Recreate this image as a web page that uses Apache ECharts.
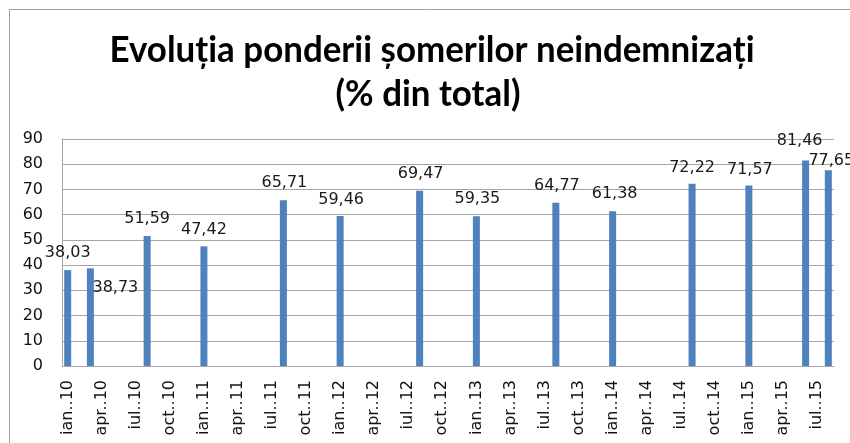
<!DOCTYPE html>
<html><head><meta charset="utf-8">
<script src="https://cdn.jsdelivr.net/npm/echarts@6/dist/echarts.min.js"></script>
<style>html,body{margin:0;padding:0;background:#fff}#c{width:850px;height:443px}</style>
</head><body><div id="c"></div>
<script>
// ---- data ----
const monthAbbr = ['ian.','feb.','mar.','apr.','mai.','iun.','iul.','aug.','sep.','oct.','nov.','dec.'];
const years = ['10','11','12','13','14','15'];
const lastCategory = 'aug..15';
const obsMonths = ['ian..10','mar..10','aug..10','ian..11','aug..11','ian..12','aug..12','ian..13','aug..13','ian..14','aug..14','ian..15','iun..15','aug..15'];
const obsValues = [38.03,38.73,51.59,47.42,65.71,59.46,69.47,59.35,64.77,61.38,72.22,71.57,81.46,77.65];
const titleLines = ['Evoluția ponderii șomerilor neindemnizați','(% din total)'];

// ---- build category axis (monthly) ----
const categories = [];
outer: for (const y of years) {
  for (const m of monthAbbr) {
    const c = m + '.' + y;
    categories.push(c);
    if (c === lastCategory) break outer;
  }
}

// per-label nudges (layout only)
const labelNudge = [[0,-8],[25,29],[0,-8],[0,-8],[1,-8],[1,-7],[1,-8],[1,-8],[1,-8],[2,-8],[0,-7],[1,-7],[-6,-11],[3,0]];

const seriesData = categories.map(c => {
  const i = obsMonths.indexOf(c);
  if (i < 0) return '-';
  return { value: obsValues[i], label: { offset: labelNudge[i] } };
});

// title scaling to mimic narrow bold font
const titleFont = 'bold 36px Lato';
const cv = document.createElement('canvas').getContext('2d');
cv.font = titleFont;
const w1 = cv.measureText(titleLines[0]).width;
const sx = 645 / w1;

const chart = echarts.init(document.getElementById('c'), null, { renderer: 'canvas' });
chart.setOption({
  animation: false,
  backgroundColor: '#fff',
  graphic: [
    { type: 'rect', shape: { x: 9.5, y: 9.5, width: 1000, height: 1000 }, style: { fill: 'none', stroke: '#a0a0a0', lineWidth: 1 }, silent: true },
    { type: 'text', x: 432, y: 50, scaleX: sx, style: { text: titleLines[0], font: titleFont, fill: '#000', textAlign: 'center', textVerticalAlign: 'middle' } },
    { type: 'text', x: 428, y: 94, scaleX: sx, style: { text: titleLines[1], font: titleFont, fill: '#000', textAlign: 'center', textVerticalAlign: 'middle' } }
  ],
  grid: { left: 62, right: 16, top: 139, bottom: 77, containLabel: false, outerBoundsMode: 'none' },
  xAxis: {
    type: 'category',
    data: categories,
    boundaryGap: true,
    axisLine: { show: true, lineStyle: { color: '#a6a6a6', width: 1 } },
    axisTick: { show: false },
    axisLabel: { interval: 2, rotate: 90, margin: 14, fontFamily: 'DejaVu Sans', fontSize: 16, color: '#111' },
    splitLine: { show: false }
  },
  yAxis: {
    type: 'value',
    min: 0, max: 90, interval: 10,
    axisLine: { show: true, lineStyle: { color: '#a6a6a6', width: 1 } },
    axisTick: { show: false },
    axisLabel: { margin: 19, fontFamily: 'DejaVu Sans', fontSize: 16, color: '#111' },
    splitLine: { show: true, lineStyle: { color: '#a6a6a6', width: 1 } }
  },
  series: [{
    type: 'bar',
    data: seriesData,
    barWidth: 7,
    itemStyle: { color: '#4f81bd' },
    label: {
      show: true, position: 'top', distance: 0,
      fontFamily: 'DejaVu Sans', fontSize: 16, lineHeight: 18, color: '#1a1a1a',
      formatter: p => p.value.toFixed(2).replace('.', ',')
    }
  }]
});
</script></body></html>
